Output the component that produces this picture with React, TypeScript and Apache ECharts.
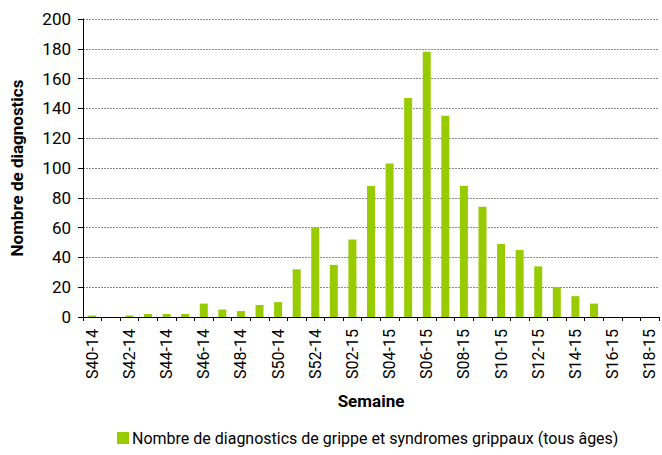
import React, { useEffect, useRef } from "react";
import * as echarts from "echarts";

const weeks = [
  "S40-14", "S41-14", "S42-14", "S43-14", "S44-14", "S45-14", "S46-14", "S47-14",
  "S48-14", "S49-14", "S50-14", "S51-14", "S52-14", "S01-15", "S02-15", "S03-15",
  "S04-15", "S05-15", "S06-15", "S07-15", "S08-15", "S09-15", "S10-15", "S11-15",
  "S12-15", "S13-15", "S14-15", "S15-15", "S16-15", "S17-15", "S18-15",
];
const diagnostics = [
  1, 0, 1, 2, 2, 2, 9, 5, 4, 8, 10, 32, 60, 35, 52, 88,
  103, 147, 178, 135, 88, 74, 49, 45, 34, 20, 14, 9, 0, 0, 0,
];
const seriesName = "Nombre de diagnostics de grippe et syndromes grippaux (tous âges)";

const FONT = "Roboto, 'Liberation Sans', sans-serif";

export default function App() {
  const ref = useRef<HTMLDivElement>(null);
  useEffect(() => {
    if (!ref.current) return;
    const chart = echarts.init(ref.current, null, { renderer: "svg" });
    chart.setOption({
      animation: false,
      textStyle: { fontFamily: FONT },
      grid: { left: 81, top: 19, right: 3, bottom: 138, containLabel: false },
      legend: {
        bottom: 4,
        left: 112,
        itemWidth: 12,
        itemHeight: 12,
        itemGap: 4,
        icon: "rect",
        textStyle: { fontFamily: FONT, fontSize: 16, color: "#000", padding: [0, 0, 0, -2] },
        data: [seriesName],
      },
      xAxis: {
        type: "category",
        data: weeks,
        name: "Semaine",
        nameLocation: "middle",
        nameGap: 75,
        nameTextStyle: { fontFamily: FONT, fontSize: 17, fontWeight: "bold", color: "#000" },
        axisLine: { lineStyle: { color: "#000", width: 1 } },
        axisTick: { show: true, interval: 0, length: 4, lineStyle: { color: "#000" } },
        axisLabel: {
          interval: 1,
          rotate: 90,
          margin: 12,
          fontSize: 16,
          color: "#000",
          fontFamily: FONT,
        },
      },
      yAxis: {
        type: "value",
        min: 0,
        max: 200,
        interval: 20,
        name: "Nombre de diagnostics",
        nameLocation: "middle",
        nameGap: 58,
        nameTextStyle: { fontFamily: FONT, fontSize: 17, fontWeight: "bold", color: "#000" },
        axisLine: { show: true, lineStyle: { color: "#000", width: 1 } },
        axisTick: { show: true, length: 5, lineStyle: { color: "#000" } },
        axisLabel: { fontSize: 17, color: "#000", margin: 12, fontFamily: FONT },
        splitLine: { show: true, lineStyle: { color: "#8a8a8a", type: [2, 1], width: 1 } },
      },
      series: [
        {
          name: seriesName,
          type: "bar",
          data: diagnostics,
          barWidth: 8,
          itemStyle: { color: "#99CC00" },
        },
      ],
    });
    return () => chart.dispose();
  }, []);
  return <div ref={ref} style={{ width: 662, height: 455, position: "absolute", left: 0, top: 0 }} />;
}
